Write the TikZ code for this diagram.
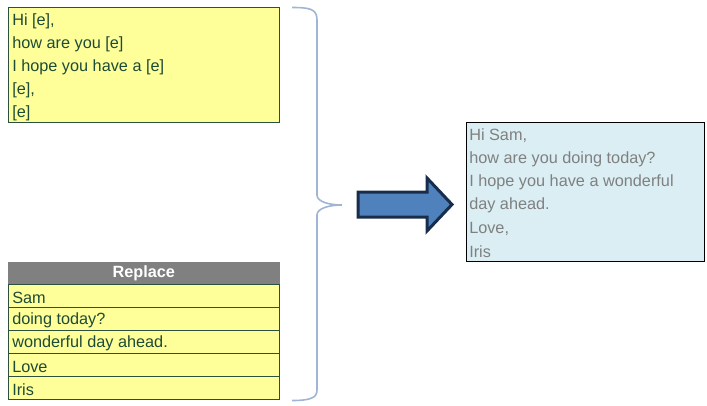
\documentclass[tikz,border=0pt]{standalone}
\usepackage{fontspec}
\setmainfont{Liberation Sans}
\definecolor{ytext}{RGB}{30,75,55}
\definecolor{yfill}{RGB}{255,255,153}
\definecolor{yline}{RGB}{45,80,60}
\definecolor{hdr}{RGB}{128,128,128}
\definecolor{bfill}{RGB}{218,238,243}
\definecolor{btext}{RGB}{128,128,128}
\definecolor{brace}{RGB}{160,180,212}
\definecolor{afill}{RGB}{79,129,189}
\definecolor{aline}{RGB}{23,45,75}
\begin{document}
\begin{tikzpicture}[x=0.75pt,y=-0.75pt,
  txt/.style={anchor=west,inner sep=0pt,font=\fontsize{12.2}{14}\selectfont},
  ytxt/.style={txt,text=ytext},
  btxt/.style={txt,text=btext},
  ybox/.style={draw=yline,fill=yfill,line width=0.75pt},
  cellbox/.style={draw=yline,fill=yfill,line width=0.75pt,minimum width=271*0.75pt,minimum height=23*0.75pt,inner sep=0pt,anchor=north west},
]
\useasboundingbox (0,0) rectangle (707,405);
% top template box
\node[ybox,minimum width=271*0.75pt,minimum height=115*0.75pt,inner sep=0pt,anchor=north west] (tpl) at (8,7) {};
\node[ytxt] (t1) at (12,21) {Hi [e],};
\node[ytxt] (t2) at (12,44) {how are you [e]};
\node[ytxt] (t3) at (12,67) {I hope you have a [e]};
\node[ytxt] (t4) at (12,90) {[e],};
\node[ytxt] (t5) at (12,113) {[e]};
% replace table
\node[draw=hdr,fill=hdr,minimum width=271*0.75pt,minimum height=22*0.75pt,inner sep=0pt,anchor=north west,text=white,font=\bfseries\fontsize{12.2}{14}\selectfont] (hd) at (8,262) {\raisebox{-1pt}{Replace}};
\node[cellbox] (r1) at (8,284) {};
\node[cellbox] (r2) at (8,307) {};
\node[cellbox] (r3) at (8,330) {};
\node[cellbox] (r4) at (8,353) {};
\node[cellbox] (r5) at (8,376) {};
\node[ytxt] at (12,297.5) {Sam};
\node[ytxt] at (12,320.5) {doing today?};
\node[ytxt] at (12,343.5) {wonderful day ahead.};
\node[ytxt] at (12,366.5) {Love};
\node[ytxt] at (12,389.5) {Iris};
% brace
\draw[brace,line width=1.2pt] (292,7.5) .. controls (310,7.5) and (317,9) .. (317,20) -- (317,195)
  .. controls (317,202) and (330,205) .. (342,205)
  .. controls (330,205) and (317,208) .. (317,215) -- (317,390)
  .. controls (317,398) and (310,400.5) .. (292,400.5);
% arrow
\draw[fill=afill,draw=aline,line width=2.25pt,line join=miter] (358,192) -- (427,192) -- (427,178) -- (452,204.5) -- (427,231) -- (427,217) -- (358,217) -- cycle;
% result box
\node[draw=black,fill=bfill,line width=0.75pt,minimum width=238*0.75pt,minimum height=139*0.75pt,inner sep=0pt,anchor=north west] (res) at (466,122) {};
\node[btxt] at (469,136) {Hi Sam,};
\node[btxt] at (469,159) {how are you doing today?};
\node[btxt] at (469,182) {I hope you have a wonderful};
\node[btxt] at (469,205.5) {day ahead.};
\node[btxt] at (469,228.5) {Love,};
\node[btxt] at (469,251.5) {Iris};
\end{tikzpicture}
\end{document}
